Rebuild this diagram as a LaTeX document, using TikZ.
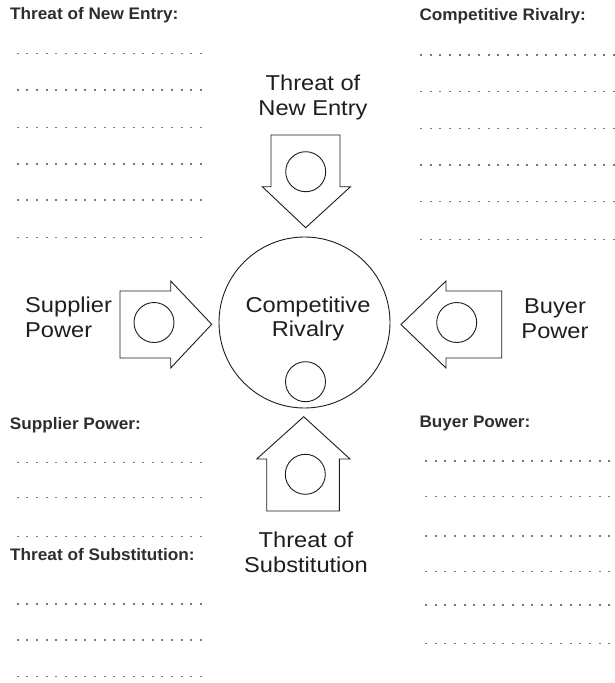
\documentclass[tikz,border=0pt]{standalone}
\usepackage{fontspec}
\setmainfont{Liberation Sans}
\newfontfamily\labfont{Liberation Sans}[FakeStretch=1.1]
\newfontfamily\headfont{Liberation Sans}[FakeStretch=1.03]
\definecolor{ink}{HTML}{1E1E1E}
\definecolor{headc}{HTML}{2E2E2E}
\definecolor{dotc}{HTML}{7A7A7A}
\tikzset{
  shapeline/.style={draw=ink, line width=0.9pt, line join=miter},
  ring/.style={draw=ink, line width=0.9pt},
  biglabel/.style={inner sep=0pt, text=ink, align=center, font=\labfont\fontsize{21.5}{24.5}\selectfont},
  heading/.style={inner sep=0pt, anchor=base west, text=headc, font=\headfont\bfseries\fontsize{16.7}{19}\selectfont},
  dotline/.style={draw=dotc, line width=1.5pt, dash pattern=on 2pt off 7.65pt},
}
\begin{document}
\begin{tikzpicture}[x=1pt,y=-1pt]
\useasboundingbox (0,0) rectangle (615,683);
\fill[white] (0,0) rectangle (615,683);

% headings
\node[heading] (hNew) at (10,19.5) {Threat of New Entry:};
\node[heading] (hRiv) at (419.3,20.5) {Competitive Rivalry:};
\node[heading] (hSup) at (9.7,429.3) {Supplier Power:};
\node[heading] (hSub) at (10,560.5) {Threat of Substitution:};
\node[heading] (hBuy) at (419.3,427.3) {Buyer Power:};

% dotted writing lines
\foreach \y in {53.3,90,127.7,164,200,237.3}
  \draw[dotline] (16.7,\y) -- (203,\y);
\foreach \y in {55,91.7,128.3,165,201.7,239.3}
  \draw[dotline] (420,\y) -- (615,\y);
\foreach \y in {462.7,497.7,536.7,604,640,676.7}
  \draw[dotline] (16.7,\y) -- (203,\y);
\foreach \y in {461,496.7,536,571.7,605,643.3}
  \draw[dotline] (425,\y) -- (615,\y);

% central circle
\node[circle, ring, minimum size=171pt, inner sep=0pt] (rival) at (304.5,322.5) {};
\node[biglabel] (rivalText) at (308,319) {Competitive\\Rivalry};
\draw[ring] (305.5,381.7) circle (20);

% top arrow (down)
\draw[shapeline] (271,135) -- (340,135) -- (340,186.7) -- (350.5,186.7) -- (305.7,227.7)
  -- (262.3,186.7) -- (271,186.7) -- cycle;
\draw[ring] (305.7,171.7) circle (20);
\node[biglabel] (newEntry) at (313,97.5) {Threat of\\New Entry};

% left arrow (right)
\draw[shapeline] (120,291) -- (170.7,291) -- (170.7,281) -- (211.7,324.3) -- (170.7,368)
  -- (170.7,358) -- (120,358) -- cycle;
\draw[ring] (154,322.5) circle (20);
\node[biglabel, anchor=west, align=left] (supplier) at (25,317.5) {Supplier\\Power};

% right arrow (left)
\draw[shapeline] (501.7,291) -- (446,291) -- (446,281) -- (401,324.5) -- (446,368)
  -- (446,358) -- (501.7,358) -- cycle;
\draw[ring] (456.7,322.5) circle (20);
\node[biglabel] (buyer) at (555,318.5) {Buyer\\Power};

% bottom arrow (up)
\draw[shapeline] (266.7,511) -- (339.3,511) -- (339.3,459) -- (350,459) -- (303.7,416.7)
  -- (256.7,459) -- (266.7,459) -- cycle;
\draw[ring] (305.3,474.3) circle (20);
\node[biglabel] (subst) at (306,552.5) {Threat of\\Substitution};
\end{tikzpicture}
\end{document}
